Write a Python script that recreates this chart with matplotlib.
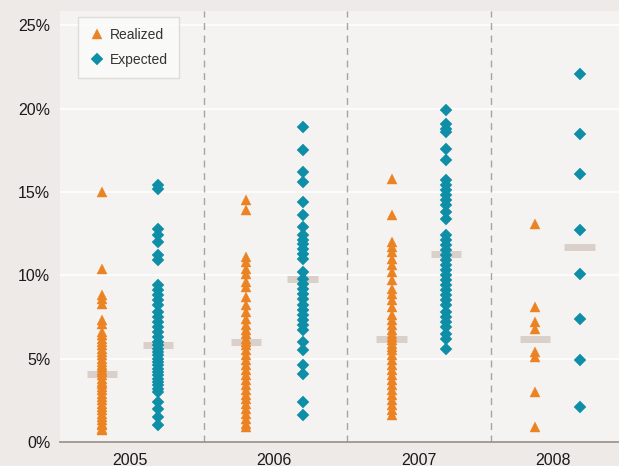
import matplotlib
matplotlib.use("Agg")
import matplotlib.pyplot as plt
import numpy as np

# ---- data (percent) ----
years = ["2005", "2006", "2007", "2008"]

realized_2005 = [15.0, 10.4, 8.8, 8.6, 8.3, 7.3, 7.1, 6.6, 6.4, 6.2, 6.0, 5.8, 5.6, 5.4,
                 5.2, 5.0, 4.8, 4.6, 4.5, 4.3, 4.2, 4.0, 3.8, 3.6, 3.5, 3.3, 3.1, 2.9,
                 2.7, 2.5, 2.3, 2.1, 1.9, 1.7, 1.5, 1.3, 1.1, 1.0, 0.8, 0.7]
expected_2005 = [15.4, 15.2, 12.8, 12.4, 12.0, 11.2, 10.9, 9.4, 9.1, 8.8, 8.5, 8.2, 7.8,
                 7.5, 7.2, 6.9, 6.6, 6.3, 6.0, 5.8, 5.6, 5.4, 5.2, 5.0, 4.8, 4.6, 4.4,
                 4.2, 4.0, 3.8, 3.6, 3.4, 3.2, 3.0, 2.4, 2.0, 1.5, 1.0]

realized_2006 = [14.5, 13.9, 11.1, 10.8, 10.4, 10.1, 9.6, 9.3, 8.7, 8.2, 7.8, 7.4, 7.0,
                 6.7, 6.5, 6.2, 6.0, 5.8, 5.5, 5.2, 4.9, 4.6, 4.3, 4.0, 3.7, 3.4, 3.1,
                 2.8, 2.6, 2.3, 2.0, 1.7, 1.4, 1.1, 0.9]
expected_2006 = [18.9, 17.5, 16.2, 15.6, 14.4, 13.6, 12.9, 12.4, 12.1, 11.9, 11.6, 11.3,
                 11.0, 10.2, 9.8, 9.5, 9.2, 8.9, 8.6, 8.2, 7.9, 7.6, 7.3, 7.0, 6.7, 6.0,
                 5.5, 4.6, 4.1, 2.4, 1.6]

realized_2007 = [15.8, 13.6, 12.0, 11.7, 11.4, 11.0, 10.6, 10.2, 9.7, 9.2, 8.9, 8.5, 8.1,
                 7.6, 7.3, 7.0, 6.7, 6.5, 6.3, 6.1, 5.9, 5.7, 5.5, 5.2, 4.9, 4.6, 4.3,
                 4.0, 3.7, 3.4, 3.1, 2.8, 2.5, 2.2, 1.9, 1.6]
expected_2007 = [19.9, 19.1, 18.8, 18.6, 17.6, 16.9, 15.7, 15.4, 15.1, 14.8, 14.5, 14.2,
                 13.8, 13.4, 12.4, 12.1, 11.8, 11.5, 11.2, 10.9, 10.6, 10.3, 10.0, 9.7,
                 9.4, 9.1, 8.8, 8.5, 8.2, 7.8, 7.5, 7.2, 6.9, 6.5, 6.2, 5.6]

realized_2008 = [13.1, 8.1, 7.2, 6.8, 5.4, 5.1, 3.0, 0.9]
expected_2008 = [22.1, 18.5, 16.1, 12.7, 10.1, 7.4, 4.9, 2.1]

realized_median = [4.1, 6.0, 6.2, 6.2]
expected_median = [5.8, 9.8, 11.3, 11.7]

yticks = [0, 5, 10, 15, 20, 25]
ytick_labels = ["0%", "5%", "10%", "15%", "20%", "25%"]

realized = [realized_2005, realized_2006, realized_2007, realized_2008]
expected = [expected_2005, expected_2006, expected_2007, expected_2008]

# ---- style ----
ORANGE = "#EB8322"
TEAL = "#0F8FA7"
MEDIAN = "#D9D0CA"
OUTER_BG = "#EEEAE7"
PANEL_BG = "#F5F3F1"

plt.rcParams["font.family"] = ["Liberation Sans", "DejaVu Sans"]

fig = plt.figure(figsize=(6.19, 4.66), dpi=100, facecolor=OUTER_BG)
W, H = 619, 466
ax = fig.add_axes([60 / W, 24 / H, 559 / W, 431 / H])
ax.set_facecolor(PANEL_BG)

r_off = [-0.205, -0.205, -0.19, -0.19]
e_off = [0.185, 0.19, 0.19, 0.12]
bar_half = 0.105

for i in range(len(years)):
    xr = i + r_off[i]
    xe = i + e_off[i]
    ax.plot([xr] * len(realized[i]), realized[i], linestyle="none", marker="^",
            ms=7.6, color=ORANGE, mec=ORANGE, mew=0.3, zorder=4,
            label="Realized" if i == 0 else None)
    ax.plot([xe] * len(expected[i]), expected[i], linestyle="none", marker="D",
            ms=5.7, color=TEAL, mec=TEAL, mew=0.3, zorder=4,
            label="Expected" if i == 0 else None)
    ax.hlines(realized_median[i], xr - bar_half, xr + bar_half, colors=MEDIAN,
              linewidth=5, zorder=3)
    ax.hlines(expected_median[i], xe - bar_half, xe + bar_half, colors=MEDIAN,
              linewidth=5, zorder=3)

# group separators
for xd in [0.5, 1.5, 2.5]:
    ax.axvline(xd, color="#A8A4A1", linewidth=1.0, linestyle=(0, (5, 4)), zorder=2)

ax.set_xlim(-0.5, 3.395)
ax.set_ylim(0, 25.86)

ax.set_yticks(yticks)
ax.set_yticklabels(ytick_labels)
ax.yaxis.grid(True, color="white", linewidth=1.2, zorder=1)
ax.set_axisbelow(True)

label_x = [i + (r_off[i] + e_off[i]) / 2 for i in range(len(years))]
label_x[3] -= 0.03
ax.set_xticks(label_x)
ax.set_xticklabels(years)

ax.tick_params(axis="both", length=0, labelsize=11.5, colors="#1a1a1a")
ax.tick_params(axis="y", pad=7)
ax.tick_params(axis="x", pad=8)

for side in ["top", "right", "left"]:
    ax.spines[side].set_visible(False)
ax.spines["bottom"].set_color("#9F9590")
ax.spines["bottom"].set_linewidth(1.3)

leg = ax.legend(loc="upper left", bbox_to_anchor=(0.032, 0.986), borderaxespad=0,
                fontsize=10, frameon=True, fancybox=False, handletextpad=0.3,
                handlelength=1.2, borderpad=0.8, labelspacing=0.75)
leg.get_frame().set_facecolor("#FBFBFA")
leg.get_frame().set_edgecolor("#D9D5D1")
leg.get_frame().set_linewidth(1.0)
for t in leg.get_texts():
    t.set_color("#333333")

fig.savefig("out.png", dpi=100, facecolor=OUTER_BG)
